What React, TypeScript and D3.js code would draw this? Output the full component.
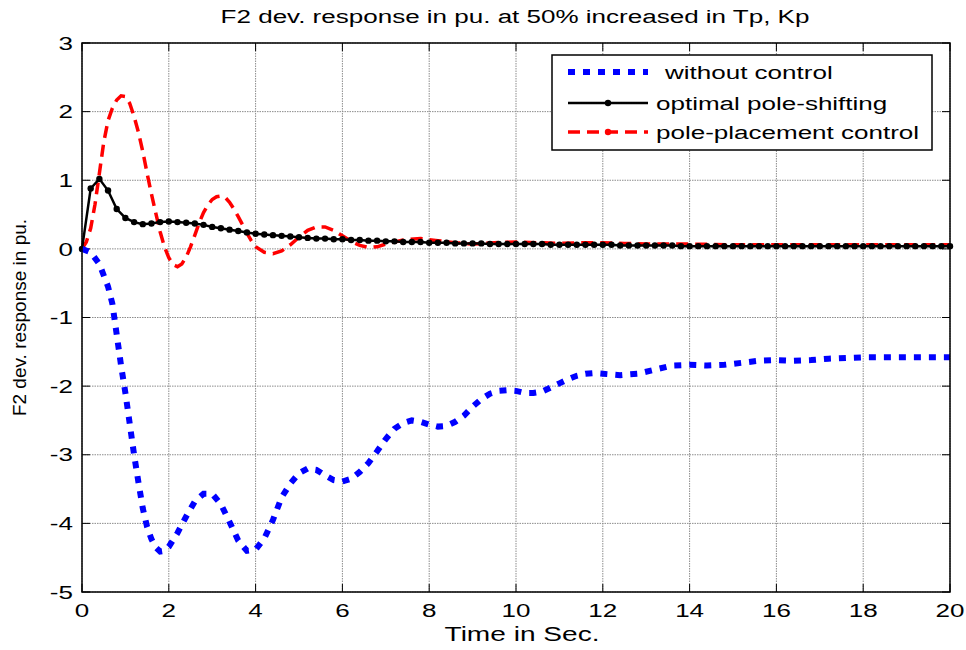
import React from 'react';
import * as d3 from 'd3';

// without control (blue dotted)
const blueT = [0, 0.2, 0.4, 0.6, 0.7, 0.8, 0.9, 1.0, 1.1, 1.2, 1.3, 1.4, 1.5, 1.6, 1.7, 1.8, 1.9, 2.0, 2.2, 2.4, 2.6, 2.8, 3.0, 3.2, 3.4, 3.6, 3.8, 4.0, 4.2, 4.4, 4.6, 4.8, 5.0, 5.2, 5.4, 5.6, 5.8, 6.0, 6.2, 6.4, 6.6, 6.8, 7.0, 7.2, 7.4, 7.6, 7.8, 8.0, 8.2, 8.4, 8.6, 8.8, 9.0, 9.2, 9.4, 9.6, 9.8, 10.0, 10.2, 10.4, 10.6, 10.8, 11.0, 11.2, 11.4, 11.6, 11.8, 12.0, 12.4, 12.8, 13.2, 13.6, 14.0, 14.4, 14.8, 15.2, 15.6, 16.0, 16.4, 16.8, 17.2, 17.6, 18.0, 18.5, 19.0, 19.5, 20.0];
const blueY = [0, -0.05, -0.22, -0.55, -0.8, -1.25, -1.7, -2.1, -2.55, -3.0, -3.4, -3.78, -4.05, -4.23, -4.35, -4.41, -4.4, -4.34, -4.14, -3.9, -3.68, -3.57, -3.57, -3.72, -3.98, -4.25, -4.4, -4.38, -4.22, -3.95, -3.62, -3.42, -3.27, -3.2, -3.22, -3.3, -3.37, -3.39, -3.35, -3.25, -3.12, -2.95, -2.77, -2.62, -2.54, -2.5, -2.52, -2.56, -2.59, -2.58, -2.52, -2.43, -2.3, -2.19, -2.11, -2.07, -2.06, -2.07, -2.1, -2.1, -2.08, -2.02, -1.96, -1.9, -1.85, -1.82, -1.81, -1.82, -1.84, -1.82, -1.76, -1.7, -1.69, -1.7, -1.69, -1.66, -1.63, -1.62, -1.63, -1.62, -1.6, -1.59, -1.58, -1.58, -1.58, -1.58, -1.58];

// optimal pole-shifting (black, dot markers), sampled every 0.2 s
const blackY = [0, 0.88, 1.02, 0.85, 0.58, 0.45, 0.39, 0.36, 0.37, 0.39, 0.4, 0.39, 0.38, 0.37, 0.35, 0.32, 0.3, 0.28, 0.26, 0.24, 0.22, 0.21, 0.2, 0.19, 0.18, 0.17, 0.16, 0.15, 0.15, 0.14, 0.14, 0.13, 0.13, 0.12, 0.12, 0.11, 0.11, 0.1, 0.1, 0.1, 0.09, 0.09, 0.09, 0.08, 0.08, 0.08, 0.08, 0.07, 0.07, 0.07, 0.07, 0.07, 0.07, 0.07, 0.06, 0.06, 0.06, 0.06, 0.06, 0.06, 0.06, 0.06, 0.05, 0.05, 0.05, 0.05, 0.05, 0.05, 0.05, 0.04, 0.04, 0.04, 0.04, 0.04, 0.04, 0.04, 0.04, 0.04, 0.04, 0.04, 0.04, 0.04, 0.04, 0.04, 0.04, 0.04, 0.04, 0.04, 0.04, 0.04, 0.04, 0.04, 0.04, 0.04, 0.04, 0.04, 0.04, 0.04, 0.04, 0.04, 0.04];

// pole-placement control (red dashed)
const redT = [0, 0.1, 0.2, 0.3, 0.4, 0.5, 0.6, 0.7, 0.8, 0.9, 1.0, 1.1, 1.2, 1.3, 1.4, 1.5, 1.6, 1.7, 1.8, 1.9, 2.0, 2.1, 2.2, 2.3, 2.4, 2.5, 2.6, 2.7, 2.8, 2.9, 3.0, 3.1, 3.2, 3.3, 3.4, 3.5, 3.6, 3.7, 3.8, 3.9, 4.0, 4.2, 4.4, 4.6, 4.8, 5.0, 5.2, 5.4, 5.6, 5.8, 6.0, 6.2, 6.4, 6.6, 6.8, 7.0, 7.4, 7.8, 8.2, 8.6, 9.0, 9.5, 10.0, 10.5, 11.0, 11.5, 12.0, 12.5, 13.0, 14.0, 15.0, 16.0, 17.0, 18.0, 19.0, 20.0];
const redY = [0, 0.1, 0.3, 0.65, 1.1, 1.55, 1.87, 2.05, 2.17, 2.23, 2.22, 2.12, 1.93, 1.7, 1.42, 1.1, 0.8, 0.52, 0.25, 0.03, -0.13, -0.23, -0.26, -0.22, -0.12, 0.03, 0.2, 0.38, 0.53, 0.64, 0.72, 0.76, 0.77, 0.75, 0.68, 0.58, 0.47, 0.35, 0.23, 0.12, 0.03, -0.05, -0.07, -0.03, 0.06, 0.17, 0.27, 0.32, 0.32, 0.27, 0.19, 0.11, 0.05, 0.02, 0.03, 0.07, 0.13, 0.15, 0.12, 0.09, 0.07, 0.09, 0.1, 0.09, 0.08, 0.09, 0.09, 0.08, 0.07, 0.07, 0.06, 0.06, 0.06, 0.06, 0.06, 0.06];

const xTicks = [0, 2, 4, 6, 8, 10, 12, 14, 16, 18, 20];
const yTicks = [-5, -4, -3, -2, -1, 0, 1, 2, 3];
const legendLabels = ['without control', 'optimal pole-shifting', 'pole-placement control'];

const W = 966;
const H = 650;
const left = 82;
const right = 950;
const top = 43;
const bottom = 592;
const font = '"Liberation Sans", Arial, sans-serif';
const sx = 1.37; // the original figure is stretched horizontally

// text placed at (x, y) and widened like the reference
const Txt = ({ x, y, size = 19, anchor = 'start', dy, children }: any) => (
  <text transform={`translate(${x},${y}) scale(${sx},1)`} fontSize={size} textAnchor={anchor} dy={dy}>{children}</text>
);

export default function App() {
  const x = d3.scaleLinear().domain([0, 20]).range([left, right]);
  const y = d3.scaleLinear().domain([-5, 3]).range([bottom, top]);
  const line = d3.line<[number, number]>().x(d => x(d[0])).y(d => y(d[1]));

  const blue = blueT.map((t, i) => [t, blueY[i]] as [number, number]);
  const black = blackY.map((v, i) => [i * 0.2, v] as [number, number]);
  const red = redT.map((t, i) => [t, redY[i]] as [number, number]);

  const tickLen = 8;
  const legX = 552, legY = 55, legW = 380, legH = 95;
  const rowY = [72, 103, 132];
  const textX = [665, 656, 656];

  return (
    <svg width={W} height={H} style={{ position: 'absolute', left: 0, top: 0, background: '#fff' }} fontFamily={font}>
      <rect x={0} y={0} width={W} height={H} fill="#fff" />
      {/* grid */}
      {xTicks.map(t => (
        <line key={'gx' + t} x1={x(t)} x2={x(t)} y1={top} y2={bottom} stroke="#8c8c8c" strokeWidth={1} strokeDasharray="1.5 1" />
      ))}
      {yTicks.map(t => (
        <line key={'gy' + t} x1={left} x2={right} y1={y(t)} y2={y(t)} stroke="#8c8c8c" strokeWidth={1} strokeDasharray="1.5 1" />
      ))}
      {/* ticks */}
      {xTicks.map(t => (
        <g key={'tx' + t}>
          <line x1={x(t)} x2={x(t)} y1={bottom} y2={bottom - tickLen} stroke="#000" />
          <line x1={x(t)} x2={x(t)} y1={top} y2={top + tickLen} stroke="#000" />
          <Txt x={x(t)} y={617} anchor="middle">{t}</Txt>
        </g>
      ))}
      {yTicks.map(t => (
        <g key={'ty' + t}>
          <line x1={left} x2={left + tickLen} y1={y(t)} y2={y(t)} stroke="#000" />
          <line x1={right} x2={right - tickLen} y1={y(t)} y2={y(t)} stroke="#000" />
          <Txt x={73} y={y(t)} anchor="end" dy="0.35em">{t}</Txt>
        </g>
      ))}

      {/* series */}
      <path d={line(red) || ''} fill="none" stroke="#ff0000" strokeWidth={3.5} strokeDasharray="12 7" />
      <path d={line(black) || ''} fill="none" stroke="#000" strokeWidth={2.5} />
      {black.map((d, i) => (
        <circle key={'m' + i} cx={x(d[0])} cy={y(d[1])} r={3.2} fill="#000" />
      ))}
      <path d={line(blue) || ''} fill="none" stroke="#0000ff" strokeWidth={6} strokeDasharray="7 8" />

      {/* axes box */}
      <rect x={left} y={top} width={right - left} height={bottom - top} fill="none" stroke="#000" strokeWidth={1.5} />

      {/* legend */}
      <rect x={legX} y={legY} width={legW} height={legH} fill="#fff" stroke="#000" strokeWidth={1.5} />
      <line x1={568} x2={648} y1={rowY[0]} y2={rowY[0]} stroke="#0000ff" strokeWidth={6} strokeDasharray="7 8" />
      <line x1={568} x2={648} y1={rowY[1]} y2={rowY[1]} stroke="#000" strokeWidth={2.5} />
      <circle cx={608} cy={rowY[1]} r={3.2} fill="#000" />
      <line x1={568} x2={648} y1={rowY[2]} y2={rowY[2]} stroke="#ff0000" strokeWidth={3.5} strokeDasharray="12 7" />
      <circle cx={608} cy={rowY[2]} r={3.2} fill="#ff0000" />
      {legendLabels.map((l, i) => (
        <Txt key={l} x={textX[i]} y={rowY[i]} dy="0.35em">{l}</Txt>
      ))}

      {/* titles */}
      <Txt x={515} y={23} anchor="middle">F2 dev. response in pu. at 50% increased in Tp, Kp</Txt>
      <Txt x={522} y={641} size={20.5} anchor="middle">Time in Sec.</Txt>
      <text transform={`translate(26, ${(top + bottom) / 2}) rotate(-90)`} fontSize={19} textAnchor="middle">F2 dev. response in pu.</text>
    </svg>
  );
}
